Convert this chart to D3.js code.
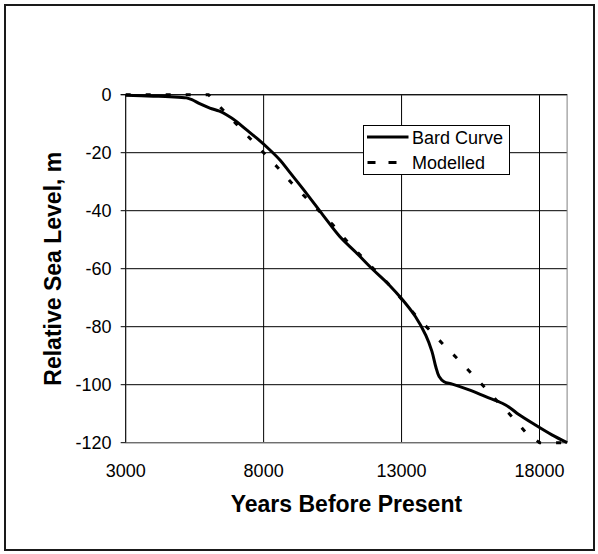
<!DOCTYPE html>
<html>
<head>
<meta charset="utf-8">
<script src="https://cdn.jsdelivr.net/npm/d3@7"></script>
<style>
  body { margin: 0; background: #fff; }
  svg text { font-family: Arial, "Liberation Sans", sans-serif; fill: #000; }
</style>
</head>
<body>
<svg width="598" height="554"></svg>
<script>
// Data
var bardYears = [3000, 4000, 4600, 5200, 5400, 5700, 6050, 6400, 6650, 7000, 7350, 7750, 8200, 8600, 8950,
    9550, 10150, 10750, 11350, 11950, 12550, 13050, 13500, 13880, 14100, 14240, 14360, 14540, 14840,
    15450, 16050, 16650, 16950, 17250, 17850, 18450, 19000];
var bardLevel = [-0.2, -0.5, -0.7, -1.1, -1.7, -3.2, -4.6, -5.7, -6.9, -9.1, -11.9, -15, -18.8, -22.6, -26.8,
    -34, -41.5, -48.8, -54.4, -60.2, -65.6, -70.9, -76.5, -83, -88.5, -93.8, -97.2, -99, -99.8,
    -101.8, -104.1, -106.4, -108.1, -110.3, -113.9, -117.3, -120];

var modelYears = [3000, 6000, 6500, 7000, 7500, 8000, 8500, 9000, 9500, 10000, 10500, 11000, 11500, 12000,
    12500, 13000, 13500, 14000, 14500, 15000, 15500, 16000, 16500, 17000, 17500, 18000, 19000];
var modelLevel = [0, 0, -5, -10, -15, -20, -25, -30.3, -35.2, -40, -44.8, -50.3, -55.3, -60.2,
    -65, -70.5, -76, -81, -86, -90.8, -95.8, -100.8, -106, -111, -116.4, -121, -131];

var xTicks = [3000, 8000, 13000, 18000];
var yTicks = [0, -20, -40, -60, -80, -100, -120];
var seriesNames = ["Bard Curve", "Modelled"];

var svg = d3.select("svg");

// Plot area
var plot = { left: 125.7, right: 567.1, top: 94.7, bottom: 442.7 };

var xScale = d3.scaleLinear().domain([3000, 19000]).range([plot.left, plot.right]);
var yScale = d3.scaleLinear().domain([-120, 0]).range([plot.bottom, plot.top]).clamp(true);

// Outer border
svg.append("rect")
    .attr("x", 5).attr("y", 5)
    .attr("width", 589).attr("height", 545)
    .attr("fill", "none")
    .attr("stroke", "#1a1a1a")
    .attr("stroke-width", 2);

// Gridlines
svg.append("g").selectAll("line.hgrid")
    .data(yTicks)
    .enter().append("line")
    .attr("class", "hgrid")
    .attr("x1", plot.left - 5).attr("x2", plot.right)
    .attr("y1", d => yScale(d)).attr("y2", d => yScale(d))
    .attr("stroke", "#000").attr("stroke-width", 1);

svg.append("g").selectAll("line.vgrid")
    .data(xTicks.slice(1))
    .enter().append("line")
    .attr("class", "vgrid")
    .attr("x1", d => xScale(d)).attr("x2", d => xScale(d))
    .attr("y1", plot.top).attr("y2", plot.bottom)
    .attr("stroke", "#000").attr("stroke-width", 1);

// Plot area border (grey) and axes
svg.append("rect")
    .attr("x", plot.left).attr("y", plot.top)
    .attr("width", plot.right - plot.left).attr("height", plot.bottom - plot.top)
    .attr("fill", "none")
    .attr("stroke", "#808080").attr("stroke-width", 1);

svg.append("line")
    .attr("x1", plot.left).attr("x2", plot.left)
    .attr("y1", plot.top).attr("y2", plot.bottom)
    .attr("stroke", "#000");
svg.append("line")
    .attr("x1", plot.left - 5).attr("x2", plot.right)
    .attr("y1", yScale(0)).attr("y2", yScale(0))
    .attr("stroke", "#000");

// Tick labels
svg.append("g").selectAll("text")
    .data(yTicks)
    .enter().append("text")
    .attr("x", 111.5)
    .attr("y", d => yScale(d))
    .attr("dy", "0.35em")
    .style("text-anchor", "end")
    .style("font-size", "18px")
    .text(d => d);

svg.append("g").selectAll("text")
    .data(xTicks)
    .enter().append("text")
    .attr("x", d => xScale(d))
    .attr("y", 477)
    .style("text-anchor", "middle")
    .style("font-size", "18px")
    .text(d => d);

// Axis titles
svg.append("text")
    .attr("x", (plot.left + plot.right) / 2)
    .attr("y", 512)
    .style("text-anchor", "middle")
    .style("font-size", "23px")
    .style("font-weight", "bold")
    .text("Years Before Present");

svg.append("text")
    .attr("transform", "translate(60.5," + ((plot.top + plot.bottom) / 2) + ") rotate(-90)")
    .style("text-anchor", "middle")
    .style("font-size", "23px")
    .style("font-weight", "bold")
    .text("Relative Sea Level, m");

// Lines
var bardData = bardYears.map((y, i) => ({ year: y, level: bardLevel[i] }));
var modelData = modelYears.map((y, i) => ({ year: y, level: modelLevel[i] }));

var lineSmooth = d3.line()
    .x(d => xScale(d.year))
    .y(d => yScale(d.level))
    .curve(d3.curveCatmullRom.alpha(0.5));

var lineStraight = d3.line()
    .x(d => xScale(d.year))
    .y(d => yScale(d.level));

svg.append("path")
    .datum(modelData)
    .attr("d", lineStraight)
    .attr("fill", "none")
    .attr("stroke", "#000")
    .attr("stroke-width", 3)
    .attr("stroke-dasharray", "5,15");

svg.append("path")
    .datum(bardData)
    .attr("d", lineSmooth)
    .attr("fill", "none")
    .attr("stroke", "#000")
    .attr("stroke-width", 3)
    .attr("stroke-linejoin", "round");

// Legend
var legend = svg.append("g");
legend.append("rect")
    .attr("x", 363.5).attr("y", 125.5)
    .attr("width", 146).attr("height", 49)
    .attr("fill", "#fff")
    .attr("stroke", "#000");

legend.append("line")
    .attr("x1", 367).attr("x2", 408.5)
    .attr("y1", 137).attr("y2", 137)
    .attr("stroke", "#000").attr("stroke-width", 3);

legend.append("line")
    .attr("x1", 367.5).attr("x2", 408.5)
    .attr("y1", 162.5).attr("y2", 162.5)
    .attr("stroke", "#000").attr("stroke-width", 3)
    .attr("stroke-dasharray", "8,13");

legend.selectAll("text.leg")
    .data(seriesNames)
    .enter().append("text")
    .attr("class", "leg")
    .attr("x", 412)
    .attr("y", (d, i) => 143.5 + i * 25.5)
    .style("font-size", "18px")
    .text(d => d);
</script>
</body>
</html>
